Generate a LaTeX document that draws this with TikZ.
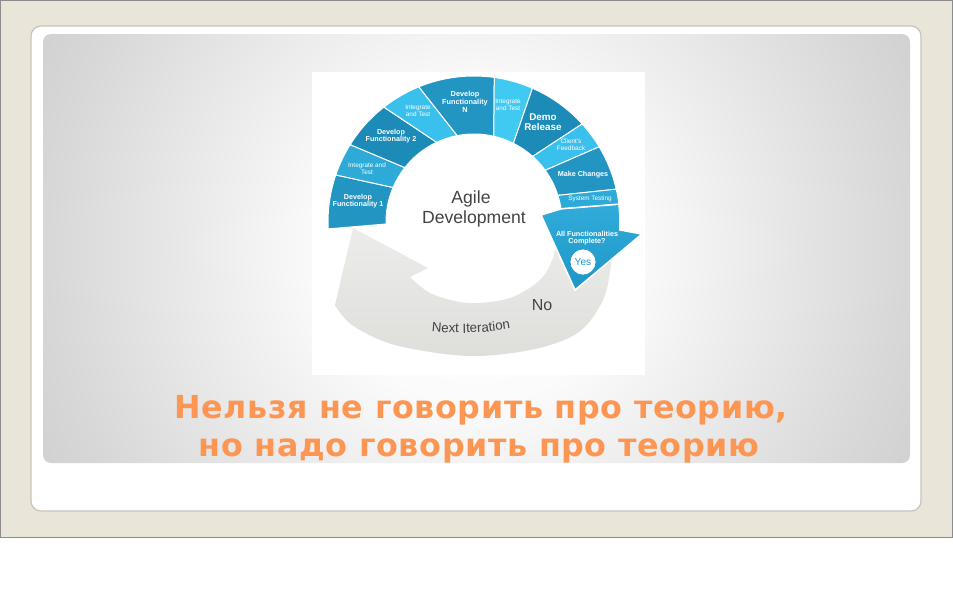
\documentclass[tikz,border=0pt]{standalone}
\usepackage{fontspec}
\setmainfont{Liberation Sans}
\newfontfamily\titlefont[LetterSpace=2]{DejaVu Sans}
\usetikzlibrary{calc,shadings,decorations.text}

\definecolor{frame}{RGB}{234,229,217}
\definecolor{frameline}{RGB}{140,140,140}
\definecolor{cardline}{RGB}{200,196,188}
\definecolor{bgA}{RGB}{255,255,255}
\definecolor{bgB}{RGB}{251,251,251}
\definecolor{bgC}{RGB}{216,216,216}
\definecolor{bgD}{RGB}{188,188,188}
\definecolor{bgE}{RGB}{168,168,168}
\definecolor{bgF}{RGB}{158,158,158}
\definecolor{bgG}{RGB}{144,144,144}
\definecolor{devA}{RGB}{34,149,195}
\definecolor{devB}{RGB}{29,139,184}
\definecolor{testA}{RGB}{46,170,216}
\definecolor{testB}{RGB}{58,192,236}
\definecolor{testC}{RGB}{64,202,242}
\definecolor{arrowtop}{RGB}{48,172,218}
\definecolor{arrowbot}{RGB}{30,150,198}
\definecolor{loopA}{RGB}{236,236,234}
\definecolor{loopB}{RGB}{222,222,219}
\definecolor{txtgray}{RGB}{68,68,68}
\definecolor{titleorange}{RGB}{252,150,82}

\pgfdeclareradialshading{slidebg}{\pgfpoint{0bp}{0bp}}{%
  color(0bp)=(bgA); color(8bp)=(bgB); color(22bp)=(bgC);
  color(35bp)=(bgD); color(45bp)=(bgE); color(50bp)=(bgF); color(72bp)=(bgG)}

% one band of the ring: colour, outer start/end angle, inner start/end angle
\newcommand\ringseg[5]{%
  \filldraw[#1, draw=white, line width=0.75pt]
    ($(C)+({-#2}:146)$) arc[start angle={-#2}, end angle={-#3}, radius=146]
    -- ($(C)+({-#5}:88)$) arc[start angle={-#5}, end angle={-#4}, radius=88]
    -- cycle;}

\tikzset{
  segb/.style={text=white, align=center, inner sep=0pt,
    font=\fontsize{5.4}{5.7}\selectfont\bfseries},
  segr/.style={text=white, align=center, inner sep=0pt,
    font=\fontsize{4.8}{5.4}\selectfont},
  headline/.style={anchor=base, text=titleorange, inner sep=0pt,
    font=\titlefont\bfseries\fontsize{23.8}{28}\selectfont},
  centre/.style={anchor=base, text=txtgray, inner sep=0pt,
    font=\fontsize{13.2}{15}\selectfont}
}

\begin{document}
\begin{tikzpicture}[x=0.75pt,y=-0.75pt]
\useasboundingbox (0,0) rectangle (953,614);

% slide frame, card and shaded panel
\filldraw[fill=frame, draw=frameline, line width=0.75pt] (0.5,0.5) rectangle (952.5,537.5);
\filldraw[fill=white, draw=cardline, line width=0.9pt, rounded corners=7.5pt] (31,26) rectangle (921,511);
\begin{scope}
  \clip[rounded corners=6pt] (43,34) rectangle (910,463);
  \shade[shading=slidebg] (-4,-232) rectangle (956,728);
\end{scope}
\fill[white] (312,72) rectangle (645,375);

% grey return loop
\shade[top color=loopA, bottom color=loopB]
  (335,305) -- plot[smooth, tension=0.55] coordinates {(335,305) (352,325) (395,345) (469,356) (535,349) (579,332) (603,300) (611,265) (612,240)}
  -- plot[smooth, tension=0.55] coordinates {(556,240) (553,258) (540,280) (510,298) (469,303) (432,294) (410,277)}
  -- (428,268) -- (353,228) -- cycle;

% blue ring
\coordinate (C) at (474,222);
\ringseg{devA}{182.7}{161.2}{181.3}{156.9}
\ringseg{testA}{161.2}{148}{156.9}{141.8}
\ringseg{devB}{148}{128.1}{141.8}{115.1}
\ringseg{testB}{128.1}{112.2}{115.1}{101}
\ringseg{devA}{112.2}{82}{101}{77}
\ringseg{testC}{82}{66.4}{77}{63.4}
\ringseg{devB}{66.4}{42.2}{63.4}{48.2}
\ringseg{testB}{42.2}{31}{48.2}{36}
\ringseg{devA}{31}{13}{36}{17.6}
\ringseg{testA}{13}{7}{17.6}{8.6}

% arrow head of the ring
\coordinate (rb) at (642,234);
\coordinate (tip) at (575,290);
\coordinate (lb) at (541,215);
\shade[top color=arrowtop, bottom color=arrowbot, draw=white, line width=1.2pt]
  ($(C)+(-7:146)$) arc[start angle=-7, end angle=3.1, radius=146]
  -- (rb) -- (tip) -- (lb) -- ($(C)+(-8.6:88)$) -- cycle;

% labels on the ring
\node[segb] (df1) at (358,201) {Develop\\Functionality 1};
\node[segr] (it1) at (367,169) {Integrate and\\Test};
\node[segb] (df2) at (391,136) {Develop\\Functionality 2};
\node[segr] (it2) at (418,111) {Integrate\\and Test};
\node[segb, font=\fontsize{5.5}{5.8}\selectfont\bfseries] (dfn) at (465,102) {Develop\\Functionality\\N};
\node[segr] (it3) at (508,105) {Integrate\\and Test};
\node[segb, font=\fontsize{7.4}{7.7}\selectfont\bfseries] (demo) at (543,122) {Demo\\Release};
\node[segr] (cf) at (571,145) {Client's\\Feedback};
\node[segb] (mc) at (583,175) {Make Changes};
\node[segr] (st) at (590,199) {System Testing};
\node[segb] (afc) at (587,238) {All Functionalities\\Complete?};
\node[circle, fill=white, draw=arrowbot, line width=0.5pt, minimum size=19.5pt, inner sep=0pt,
      text=arrowbot, font=\fontsize{7.6}{8}\selectfont] (yes) at (583,262) {Yes};

% centre title and loop labels
\node[centre] (agile) at (471,203) {Agile};
\node[centre] (dev) at (474,223) {Development};
\node[text=txtgray, inner sep=0pt, font=\fontsize{12}{13}\selectfont] (no) at (542,305) {No};
\path[decorate, decoration={text along path, text align=center,
      text={|\color{txtgray}\fontsize{10}{11}\selectfont|Next Iteration}}]
  ($(461,43)+(104:290)$) arc[start angle=104, end angle=72, radius=290];

% caption
\node[headline] (t1) at (481,418) {Нельзя не говорить про теорию,};
\node[headline] (t2) at (479,456) {но надо говорить про теорию};
\end{tikzpicture}
\end{document}
